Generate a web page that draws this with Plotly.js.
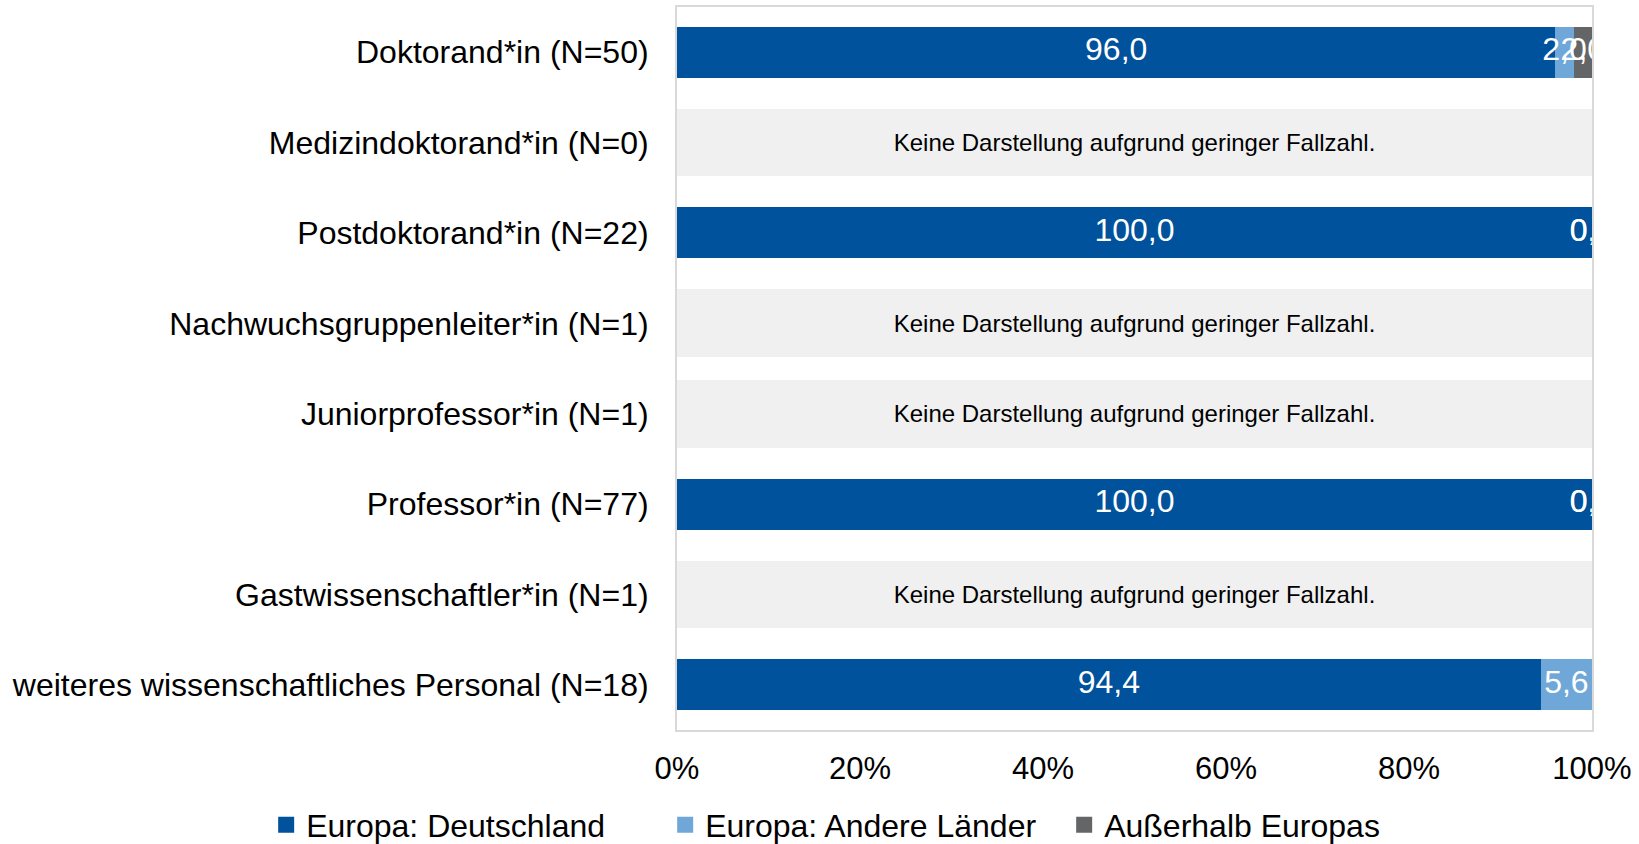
<!DOCTYPE html>
<html>
<head>
<meta charset="utf-8">
<script src="https://cdn.plot.ly/plotly-3.0.1.min.js"></script>
<style>html,body{margin:0;padding:0;background:#fff;}#chart{width:1639px;height:844px;}</style>
</head>
<body>
<div id="chart"></div>
<script>
const categories = [
  "Doktorand*in (N=50)",
  "Medizindoktorand*in (N=0)",
  "Postdoktorand*in (N=22)",
  "Nachwuchsgruppenleiter*in (N=1)",
  "Juniorprofessor*in (N=1)",
  "Professor*in (N=77)",
  "Gastwissenschaftler*in (N=1)",
  "weiteres wissenschaftliches Personal (N=18)"
];
const seriesNames = ["Europa: Deutschland", "Europa: Andere Länder", "Außerhalb Europas"];
const deutschland = [96.0, null, 100.0, null, null, 100.0, null, 94.4];
const andereLaender = [2.0, null, 0.0, null, null, 0.0, null, 5.6];
const ausserhalb = [2.0, null, 0.0, null, null, 0.0, null, null];
const noData = [false, true, false, true, true, false, true, false];
const noDataText = "Keine Darstellung aufgrund geringer Fallzahl.";
const xTickVals = [0, 20, 40, 60, 80, 100];
const xTickText = ["0%", "20%", "40%", "60%", "80%", "100%"];

const colors = ["#00529C", "#6FA8D8", "#646567"];
const FONT = "Liberation Sans, Arial, Helvetica, sans-serif";
const series = [deutschland, andereLaender, ausserhalb];

const traces = [];
// placeholder boxes for categories without data
traces.push({
  type: "bar", orientation: "h",
  y: categories,
  x: noData.map(n => n ? 100 : null),
  width: 0.75,
  marker: {color: "#F0F0F0", line: {width: 0}},
  text: noData.map(n => n ? noDataText : ""),
  textposition: "inside", insidetextanchor: "middle", constraintext: "none", textangle: 0,
  textfont: {family: FONT, size: 24, color: "#000000"},
  showlegend: false, hoverinfo: "skip"
});
series.forEach((vals, k) => {
  traces.push({
    type: "bar", orientation: "h",
    name: seriesNames[k],
    y: categories, x: vals,
    width: 0.565,
    marker: {color: colors[k], line: {width: 0}},
    showlegend: false,
    hoverinfo: "skip"
  });
});
// value labels centred on each segment (clipped at the plot edge)
const bases = categories.map(() => 0);
series.forEach((vals, k) => {
  const xs = [], ys = [], ts = [];
  vals.forEach((v, i) => {
    if (v === null) return;
    xs.push(bases[i] + v / 2);
    ys.push(categories[i]);
    ts.push(v.toFixed(1).replace(".", ","));
    bases[i] += v;
  });
  traces.push({
    type: "scatter", mode: "text", x: xs, y: ys, text: ts,
    textposition: "middle center",
    textfont: {family: FONT, size: 32, color: "#FFFFFF"},
    cliponaxis: true, showlegend: false, hoverinfo: "skip"
  });
});
// legend entries (square swatches)
series.forEach((vals, k) => {
  traces.push({
    type: "scatter", mode: "markers", name: seriesNames[k],
    x: [null], y: [null],
    marker: {symbol: "square", size: 16, color: colors[k]},
    showlegend: true, hoverinfo: "skip"
  });
});

const layout = {
  width: 1639, height: 844,
  margin: {l: 677, r: 47, t: 7, b: 114, pad: 0, autoexpand: false},
  paper_bgcolor: "#FFFFFF", plot_bgcolor: "#FFFFFF",
  barmode: "stack",
  font: {family: FONT, color: "#000000"},
  xaxis: {
    range: [0, 100], tickvals: xTickVals, ticktext: xTickText,
    showgrid: false, zeroline: false,
    showline: true, mirror: true, linecolor: "#D9D9D9", linewidth: 2,
    ticks: "outside", ticklen: 10, tickcolor: "rgba(0,0,0,0)",
    tickfont: {family: FONT, size: 31, color: "#000000"},
    fixedrange: true
  },
  yaxis: {
    type: "category", categoryorder: "array", categoryarray: categories,
    autorange: "reversed",
    showgrid: false, zeroline: false,
    showline: true, mirror: true, linecolor: "#D9D9D9", linewidth: 2,
    ticks: "outside", ticklen: 20, tickcolor: "rgba(0,0,0,0)",
    tickfont: {family: FONT, size: 32, color: "#000000"},
    fixedrange: true
  },
  showlegend: true,
  legend: {
    orientation: "h", xref: "paper", yref: "paper",
    x: -0.449, xanchor: "left", y: -0.1314, yanchor: "middle",
    font: {family: FONT, size: 32, color: "#000000"},
    itemwidth: 30, entrywidth: 354, entrywidthmode: "pixels",
    traceorder: "normal", bgcolor: "rgba(0,0,0,0)"
  }
};

Plotly.newPlot("chart", traces, layout, {displayModeBar: false, staticPlot: true});
</script>
</body>
</html>
